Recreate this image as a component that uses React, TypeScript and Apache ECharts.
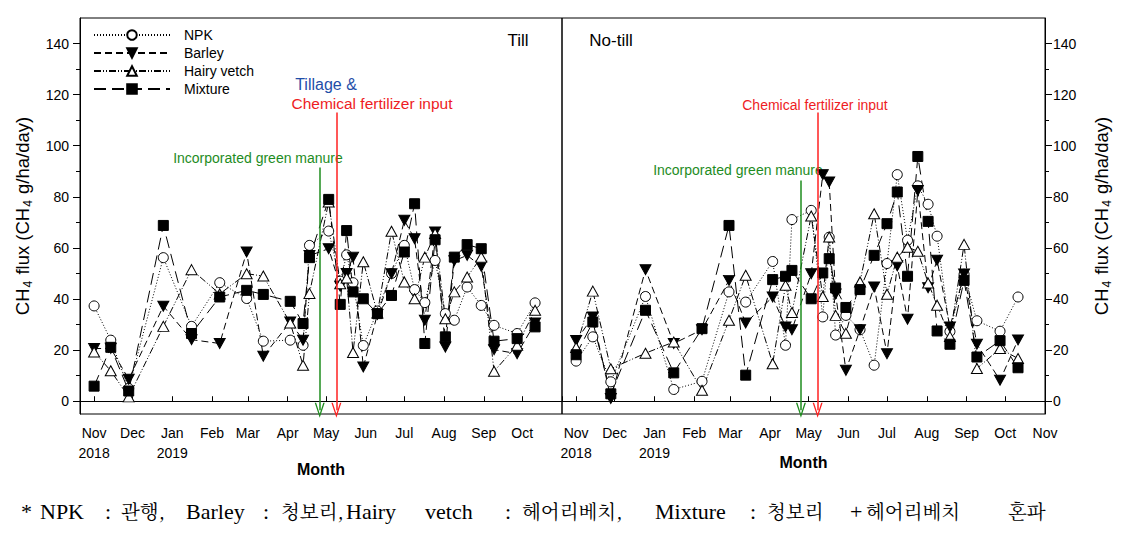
import React, { useEffect, useRef } from 'react';
import * as echarts from 'echarts';

// ---- data ----
const sampleDates = [
  '2018-11-01', '2018-11-14', '2018-11-28', '2018-12-25', '2019-01-16', '2019-02-07',
  '2019-02-28', '2019-03-13', '2019-04-03', '2019-04-13', '2019-04-18', '2019-05-03',
  '2019-05-12', '2019-05-17', '2019-05-22', '2019-05-30', '2019-06-10', '2019-06-21',
  '2019-07-01', '2019-07-09', '2019-07-17', '2019-07-25', '2019-08-02', '2019-08-09',
  '2019-08-19', '2019-08-30', '2019-09-09', '2019-09-27', '2019-10-11',
];

const tillNPK = [37.3, 23.9, 5, 56.2, 29.3, 46.4, 40.2, 23.5, 23.9, 21.9, 61, 66.6, 47, 57.3, 46.4, 21.8, 35.3, 50, 61, 43.7, 38.6, 55.1, 34.3, 31.7, 44.7, 37.5, 29.7, 26.5, 38.5];
const tillBarley = [20.6, 20.7, 8.6, 37.2, 24.1, 22.6, 58.4, 17.6, 31, 23.9, 57, 59.7, 45, 50, 56.4, 13.4, 34, 49.9, 70.8, 63.6, 31.7, 66.2, 21.2, 55, 57.1, 52.8, 20.2, 18.6, 30.6];
const tillHairyVetch = [19.3, 11.9, 1.7, 29.3, 51.5, 42, 49.9, 49, 30.6, 14.1, 42.2, 78, 46, 48.2, 19.1, 54.6, 34.5, 66.5, 46.7, 40.1, 56.4, 65.6, 32.3, 42.8, 48.6, 56.4, 11.7, 21.9, 35.6];
const tillMixture = [5.9, 21.1, 4, 68.8, 26.5, 40.8, 43.4, 41.8, 39.1, 30.4, 56.2, 79, 37.9, 66.8, 42.8, 40.1, 34.3, 41.4, 58.4, 77.3, 22.6, 63.2, 25.2, 56.4, 61.3, 59.7, 23.5, 24.5, 29.1];

const noTillNPK = [15.7, 25.2, 7.6, 41, 4.6, 7.8, 42.8, 38.8, 54.7, 21.9, 71.1, 74.7, 33, 64.2, 25.9, 33.6, 28, 14.1, 53.9, 88.7, 63, 84.3, 77.1, 64.6, 27.3, 49.7, 31.5, 27.4, 40.8];
const noTillBarley = [23.8, 33, 1.1, 51.5, 22.6, 28, 47.3, 30.6, 40.8, 29.1, 28, 49.9, 88.7, 85.8, 42, 12.1, 28, 44.7, 18.6, 53, 32.1, 82.5, 44.4, 55.2, 29.1, 49.8, 22.3, 8.2, 24];
const noTillHairyVetch = [21, 43.1, 12.7, 18.8, 23.2, 4.3, 31.7, 49.3, 14.7, 45.4, 34.7, 72.5, 41, 64.3, 33.6, 26.6, 46.7, 73.4, 41.9, 56.4, 60.3, 58.7, 46.3, 37.6, 25.3, 61.4, 12.8, 20.6, 16.7];
const noTillMixture = [18.2, 31, 2.9, 35.6, 11.1, 28.4, 68.8, 10.2, 47.6, 48.9, 51.2, 40.1, 50.2, 55.8, 44.3, 36.7, 43.7, 57.1, 69.5, 81.9, 48.9, 95.8, 70.4, 27.5, 22.3, 47.3, 17.3, 23.7, 13.1];

const seriesNames = ['NPK', 'Barley', 'Hairy vetch', 'Mixture'];
const yTickValues = [0, 20, 40, 60, 80, 100, 120, 140];
const yMinorTickValues = [10, 30, 50, 70, 90, 110, 130];
const monthNames = ['Jan', 'Feb', 'Mar', 'Apr', 'May', 'Jun', 'Jul', 'Aug', 'Sep', 'Oct', 'Nov', 'Dec'];
const axisStart = '2018-10-21';
const axisEnd = '2019-11-01';
// event dates: [till, no-till]
const greenManureDates = ['2019-04-26', '2019-04-25'];
const greenManureTop = [91.5, 86.4];
const fertilizerDates = ['2019-05-09', '2019-05-08'];
const fertilizerTop = [113, 113];

const footnoteParts = ['*', 'NPK', ':', '관행,', 'Barley', ':', '청보리,', 'Hairy', 'vetch', ':', '헤어리베치,', 'Mixture', ':', '청보리', '+', '헤어리베치', '혼파'];
const footnoteX = [21, 40, 105, 121, 186, 263, 281, 346, 425, 505, 522, 655, 750, 767, 850, 866, 1008];

// ---- helpers ----
const parseLocal = (s: string) => {
  const [y, m, d] = s.split('-').map(Number);
  return new Date(y, m - 1, d).getTime();
};
const DAY = 24 * 3600 * 1000;
const SANS = "'Liberation Sans', Arial, sans-serif";
const SERIF = "'Liberation Serif', 'Times New Roman', serif";
const KR = "'Noto Serif CJK KR', 'Noto Sans CJK KR', serif";
const isKorean = (s: string) => /[\uac00-\ud7a3]/.test(s);

const styleMap: Record<string, any> = {
  NPK: { symbol: 'circle', symbolSize: 10, symbolRotate: 0, dash: [1, 2], fill: '#fff' },
  Barley: { symbol: 'triangle', symbolSize: [11, 10], symbolRotate: 180, dash: [7, 4], fill: '#000' },
  'Hairy vetch': { symbol: 'triangle', symbolSize: [11, 10], symbolRotate: 0, dash: [7, 2, 1, 2, 1, 2], fill: '#fff' },
  Mixture: { symbol: 'rect', symbolSize: 10, symbolRotate: 0, dash: [12, 6], fill: '#000' },
};

const arrowHead = 'path://M0,14 L5,0 L10,14 L8.6,14 L5,3.6 L1.4,14 Z';

function makeSeries(name: string, values: number[], panel: number) {
  const st = styleMap[name];
  const s: any = {
    name,
    type: 'line',
    xAxisIndex: panel,
    yAxisIndex: panel * 2,
    data: sampleDates.map((d, i) => [parseLocal(d), values[i]]),
    symbol: st.symbol,
    symbolSize: st.symbolSize,
    symbolRotate: st.symbolRotate,
    showAllSymbol: true,
    lineStyle: { color: '#000', width: 1, type: st.dash },
    itemStyle: { color: st.fill, borderColor: '#000', borderWidth: 1 },
    emphasis: { disabled: true },
  };
  if (name === 'NPK') {
    s.markLine = {
      silent: true,
      label: { show: false },
      data: [
        [
          { coord: [parseLocal(greenManureDates[panel]), greenManureTop[panel]], symbol: 'none', lineStyle: { color: '#1e8c1e', width: 1.5, type: 'solid' } },
          { coord: [parseLocal(greenManureDates[panel]), -3.5], symbol: arrowHead, symbolSize: [10, 15] },
        ],
        [
          { coord: [parseLocal(fertilizerDates[panel]), fertilizerTop[panel]], symbol: 'none', lineStyle: { color: '#ff2020', width: 1.5, type: 'solid' } },
          { coord: [parseLocal(fertilizerDates[panel]), -3.5], symbol: arrowHead, symbolSize: [10, 15] },
        ],
      ],
    };
  }
  return s;
}

const makeMonthFormatter = (panel: number) => (v: number) => {
  const d = new Date(v);
  const m = d.getMonth();
  const y = d.getFullYear();
  // the till panel leaves its closing Nov tick unlabelled (shared border)
  if (panel === 0 && y === 2019 && m === 10) return '';
  let s = monthNames[m];
  if ((y === 2018 && m === 10) || (y === 2019 && m === 0)) s += '\n' + y;
  return s;
};

function xAxisFor(panel: number) {
  return {
    type: 'time',
    gridIndex: panel,
    min: parseLocal(axisStart),
    max: parseLocal(axisEnd),
    splitNumber: 12,
    minInterval: 28 * DAY,
    maxInterval: 31 * DAY,
    axisLine: { show: true, lineStyle: { color: '#000', width: 1 } },
    axisTick: { show: true, inside: true, length: 5, lineStyle: { color: '#000' } },
    splitLine: { show: false },
    axisLabel: {
      formatter: makeMonthFormatter(panel),
      color: '#000',
      fontSize: 14,
      fontFamily: SANS,
      margin: 9,
      lineHeight: 20,
      showMinLabel: false,
      showMaxLabel: panel === 1,
      hideOverlap: false,
    },
    name: 'Month',
    nameLocation: 'middle',
    nameGap: panel === 0 ? 47 : 40,
    nameMoveOverlap: false,
    nameTextStyle: { fontWeight: 'bold', fontSize: 16, color: '#000', fontFamily: SANS },
  };
}

function yAxesFor(panel: number) {
  const pos = panel === 0 ? 'left' : 'right';
  return [
    {
      type: 'value',
      gridIndex: panel,
      position: pos,
      min: -5,
      max: 150,
      axisLine: { show: true, lineStyle: { color: '#000' } },
      axisTick: { show: true, length: 7, customValues: yTickValues, lineStyle: { color: '#000' } },
      axisLabel: { customValues: yTickValues, color: '#000', fontSize: 14, fontFamily: SANS, margin: panel === 0 ? 11 : 8 },
      splitLine: { show: false },
      name: 'CH{s|4} flux (CH{s|4} g/ha/day)',
      nameLocation: 'middle',
      nameRotate: 90,
      nameGap: panel === 0 ? 46 : 44,
      nameMoveOverlap: false,
      nameTextStyle: {
        fontSize: 18.5,
        color: '#000',
        fontFamily: SANS,
        lineHeight: 24,
        rich: { s: { fontSize: 12, color: '#000', fontFamily: SANS, verticalAlign: 'bottom', lineHeight: 24, padding: [0, 1, 0, 1] } },
      },
    },
    {
      type: 'value',
      gridIndex: panel,
      position: pos,
      min: -5,
      max: 150,
      axisLine: { show: false },
      axisTick: { show: true, length: 4, customValues: yMinorTickValues, lineStyle: { color: '#000' } },
      axisLabel: { show: false },
      splitLine: { show: false },
    },
  ];
}

function txt(text: string, x: number, y: number, size: number, color: string, family = SANS, align = 'center') {
  return {
    type: 'text',
    silent: true,
    style: { text, x, y, fill: color, fontSize: size, fontFamily: family, align, verticalAlign: 'middle' },
  };
}

export default function App() {
  const ref = useRef<HTMLDivElement>(null);
  useEffect(() => {
    if (!ref.current) return;
    const chart = echarts.init(ref.current, undefined, { renderer: 'svg' });
    const series = [
      makeSeries('NPK', tillNPK, 0),
      makeSeries('Barley', tillBarley, 0),
      makeSeries('Hairy vetch', tillHairyVetch, 0),
      makeSeries('Mixture', tillMixture, 0),
      makeSeries('NPK', noTillNPK, 1),
      makeSeries('Barley', noTillBarley, 1),
      makeSeries('Hairy vetch', noTillHairyVetch, 1),
      makeSeries('Mixture', noTillMixture, 1),
    ];
    const graphic: any[] = [
      txt('Till', 518, 40, 17, '#000'),
      txt('No-till', 611, 40, 17, '#000'),
      txt('Tillage &', 326, 84, 16, '#1f4ea8'),
      txt('Chemical fertilizer input', 372, 103, 15.5, '#ee1c24'),
      txt('Incorporated green manure', 258, 158, 14, '#1e8c1e'),
      txt('Chemical fertilizer input', 815, 105, 14, '#ee1c24'),
      txt('Incorporated green manure', 738, 170, 14, '#1e8c1e'),
      ...footnoteParts.map((p, i) =>
        txt(p, footnoteX[i], 511, isKorean(p) ? 19.5 : 22, '#000', isKorean(p) ? KR : SERIF, 'left')
      ),
    ];
    chart.setOption({
      animation: false,
      backgroundColor: '#fff',
      grid: [
        { left: 80, top: 18, width: 482, height: 396, show: true, borderColor: '#000', borderWidth: 1, containLabel: false },
        { left: 562, top: 18, width: 483, height: 396, show: true, borderColor: '#000', borderWidth: 1, containLabel: false },
      ],
      xAxis: [xAxisFor(0), xAxisFor(1)],
      yAxis: [...yAxesFor(0), ...yAxesFor(1)],
      legend: {
        orient: 'vertical',
        left: 88,
        top: 23,
        itemWidth: 76,
        itemHeight: 12,
        itemGap: 4,
        selectedMode: false,
        data: seriesNames,
        textStyle: { fontSize: 14, color: '#000', fontFamily: SANS, padding: [0, 0, 0, 9] },
      },
      series,
      graphic,
    });
    return () => chart.dispose();
  }, []);
  return (
    <div
      ref={ref}
      style={{ position: 'fixed', left: 0, top: 0, width: 1123, height: 535, background: '#fff' }}
    />
  );
}
